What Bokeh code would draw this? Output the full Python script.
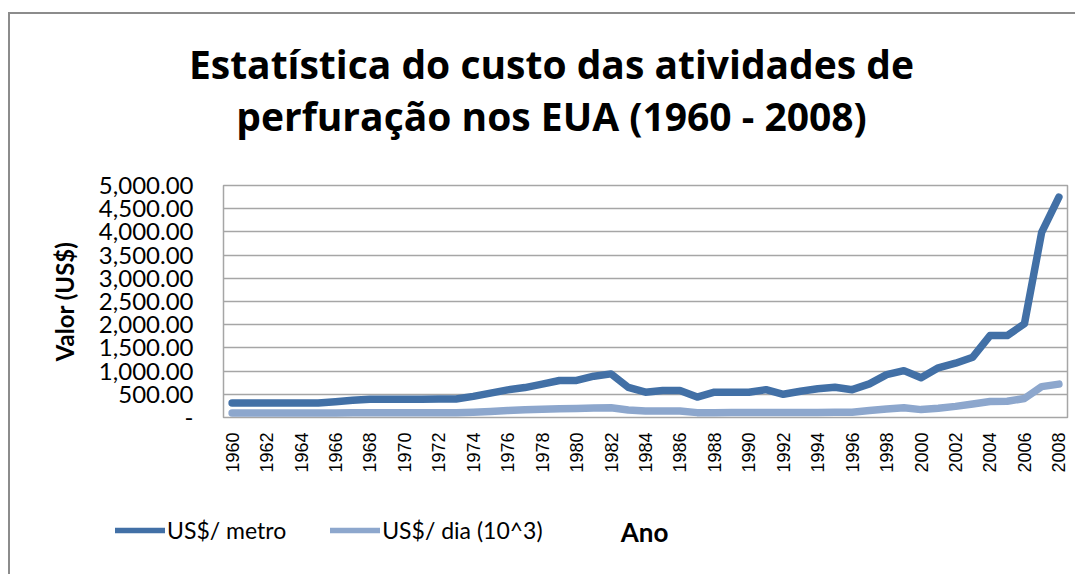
from math import pi
from bokeh.plotting import figure
from bokeh.layouts import column
from bokeh.models import (Range1d, FixedTicker, NumeralTickFormatter, Legend, LegendItem, Label)
from bokeh.embed import file_html
from bokeh.resources import INLINE

years = [1960, 1961, 1962, 1963, 1964, 1965, 1966, 1967, 1968, 1969,
         1970, 1971, 1972, 1973, 1974, 1975, 1976, 1977, 1978, 1979,
         1980, 1981, 1982, 1983, 1984, 1985, 1986, 1987, 1988, 1989,
         1990, 1991, 1992, 1993, 1994, 1995, 1996, 1997, 1998, 1999,
         2000, 2001, 2002, 2003, 2004, 2005, 2006, 2007, 2008]

us_metro = [310, 310, 310, 310, 310, 315, 340, 370, 395, 395,
            395, 395, 400, 400, 455, 525, 595, 645, 718, 797,
            800, 890, 940, 650, 545, 580, 580, 440, 545, 545,
            545, 600, 500, 565, 620, 650, 600, 725, 925, 1010,
            855, 1070, 1170, 1300, 1765, 1765, 2020, 3990, 4750]

us_dia = [95, 95, 95, 95, 95, 95, 95, 100, 100, 100,
          100, 100, 100, 105, 115, 130, 150, 165, 180, 190,
          195, 205, 210, 160, 140, 140, 140, 105, 105, 110,
          110, 110, 110, 110, 110, 115, 115, 150, 185, 210,
          170, 200, 240, 290, 345, 350, 410, 665, 720]

x_ticks = [1960, 1962, 1964, 1966, 1968, 1970, 1972, 1974, 1976, 1978,
           1980, 1982, 1984, 1986, 1988, 1990, 1992, 1994, 1996, 1998,
           2000, 2002, 2004, 2006, 2008]
y_ticks = [0, 500, 1000, 1500, 2000, 2500, 3000, 3500, 4000, 4500, 5000]

series_names = ["US$/ metro", "US$/ dia (10^3)"]
title_lines = ["Estatística do custo das atividades de",
               "perfuração nos EUA (1960 - 2008)"]
x_label = "Ano"
y_label = "Valor (US$)"

DARK = "#4270A6"
LIGHT = "#8DA7CD"
GRID = "#A6A6A6"
LW = 7.5
LW_LEG = 5.5
W = 1065
H_TOP, H_MAIN, H_LEG = 140, 321, 99


def strip(h):
    f = figure(width=W, height=h, output_backend="svg", toolbar_location=None,
               x_range=Range1d(0, W), y_range=Range1d(h, 0), min_border=0,
               x_axis_location=None, y_axis_location=None)
    f.grid.grid_line_color = None
    f.outline_line_color = None
    f.border_fill_color = "white"
    f.frame_align = False
    return f


# ---- title strip
top = strip(H_TOP)
for txt, ty in zip(title_lines, [49, 101]):
    top.add_layout(Label(x=541, y=ty, text=txt, text_align="center",
                         text_baseline="alphabetic", text_font="Open Sans",
                         text_font_style="bold", text_font_size="39px",
                         text_color="black"))

# ---- main chart
p = figure(width=W, height=H_MAIN, output_backend="svg", toolbar_location=None,
           x_range=Range1d(1959.5, 2008.5), y_range=Range1d(0, 5000),
           min_border_left=213, min_border_right=8, min_border_top=31,
           min_border_bottom=58)
p.frame_align = False
p.outline_line_color = GRID
p.outline_line_width = 1.5
p.border_fill_color = "white"

p.xgrid.grid_line_color = None
p.ygrid.grid_line_color = GRID
p.ygrid.grid_line_width = 1.5
p.ygrid.ticker = FixedTicker(ticks=y_ticks)

p.line(years, us_metro, line_color=DARK, line_width=LW, line_join="round", line_cap="round")
p.line(years, us_dia, line_color=LIGHT, line_width=LW, line_join="round", line_cap="round")

ya = p.yaxis[0]
ya.ticker = FixedTicker(ticks=y_ticks)
ya.formatter = NumeralTickFormatter(format="0,0.00")
ya.major_label_overrides = {0: "-"}
ya.axis_line_color = None
ya.major_tick_line_color = None
ya.minor_tick_line_color = None
ya.major_label_standoff = 24
ya.major_label_text_font = "Lato"
ya.major_label_text_font_size = "24px"
ya.major_label_text_color = "black"
ya.axis_label = y_label
ya.axis_label_text_font = "Lato"
ya.axis_label_text_font_style = "bold"
ya.axis_label_text_font_size = "24px"
ya.axis_label_text_color = "black"
ya.axis_label_standoff = 17

xa = p.xaxis[0]
xa.ticker = FixedTicker(ticks=x_ticks)
xa.major_label_orientation = pi / 2
xa.axis_line_color = None
xa.major_tick_line_color = None
xa.minor_tick_line_color = None
xa.major_label_standoff = 9
xa.major_label_text_font = "Liberation Sans"
xa.major_label_text_font_size = "18px"
xa.major_label_text_color = "black"

# ---- legend strip (legend + x axis title)
leg = strip(H_LEG)
# legend proxies: same series, drawn outside this strip's visible range
l1 = leg.line(years, us_metro, line_color=DARK, line_width=LW_LEG, line_cap="round")
l2 = leg.line(years, us_dia, line_color=LIGHT, line_width=LW_LEG, line_cap="round")
legend = Legend(items=[LegendItem(label=series_names[0], renderers=[l1]),
                       LegendItem(label=series_names[1], renderers=[l2])],
                orientation="horizontal", location=(105, 30),
                glyph_width=50, glyph_height=20, label_standoff=2, spacing=44,
                padding=0, margin=0, border_line_color=None,
                background_fill_alpha=0,
                label_text_font="Lato", label_text_font_size="23px",
                label_text_color="black")
leg.add_layout(legend, "center")
leg.add_layout(Label(x=634, y=56, text=x_label, text_align="center", text_baseline="middle",
                     text_font="Lato", text_font_style="bold", text_font_size="26px",
                     text_color="black"))

layout = column(top, p, leg, spacing=0)
layout.styles = {"border-left": "2px solid #8C8C8C", "border-top": "2px solid #8C8C8C",
                 "margin-left": "8px", "margin-top": "12px"}

open("out.html", "w").write(file_html(layout, INLINE))
